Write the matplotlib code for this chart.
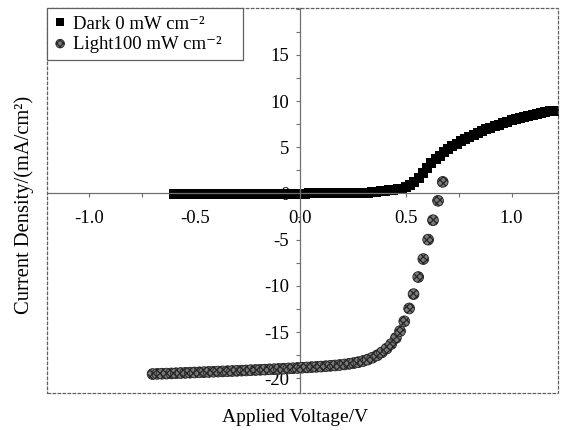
import matplotlib
matplotlib.use("Agg")
import matplotlib.pyplot as plt
from matplotlib.patches import Rectangle
from matplotlib.ticker import MultipleLocator

plt.rcParams['font.family'] = ['Liberation Serif', 'DejaVu Serif']
plt.rcParams['hatch.linewidth'] = 0.9

# ---- data ----
dark_v = [-0.60, -0.58, -0.56, -0.54, -0.52, -0.50, -0.48, -0.46, -0.44, -0.42,
          -0.40, -0.38, -0.36, -0.34, -0.32, -0.30, -0.28, -0.26, -0.24, -0.22,
          -0.20, -0.18, -0.16, -0.14, -0.12, -0.10, -0.08, -0.06, -0.04, -0.02,
          0.00, 0.02, 0.04, 0.06, 0.08, 0.10, 0.12, 0.14, 0.16, 0.18,
          0.20, 0.22, 0.24, 0.26, 0.28, 0.30, 0.32, 0.34, 0.36, 0.38,
          0.40, 0.42, 0.44, 0.46, 0.48, 0.50, 0.52, 0.54, 0.56, 0.58,
          0.60, 0.62, 0.64, 0.66, 0.68, 0.70, 0.72, 0.74, 0.76, 0.78,
          0.80, 0.82, 0.84, 0.86, 0.88, 0.90, 0.92, 0.94, 0.96, 0.98,
          1.00, 1.02, 1.04, 1.06, 1.08, 1.10, 1.12, 1.14, 1.16, 1.18, 1.20]
dark_j = [-0.03, -0.03, -0.03, -0.03, -0.03, -0.03, -0.03, -0.03, -0.03, -0.03,
          -0.03, -0.03, -0.03, -0.03, -0.03, -0.03, -0.03, -0.03, -0.03, -0.03,
          -0.02, -0.02, -0.02, -0.02, -0.02, -0.02, -0.02, -0.02, -0.01, -0.01,
          -0.01, -0.01, 0.00, 0.00, 0.00, 0.01, 0.01, 0.01, 0.02, 0.02,
          0.03, 0.03, 0.04, 0.05, 0.06, 0.08, 0.10, 0.13, 0.17, 0.21,
          0.26, 0.32, 0.38, 0.45, 0.52, 0.65, 0.90, 1.25, 1.70, 2.25,
          2.75, 3.25, 3.70, 4.10, 4.45, 4.80, 5.10, 5.40, 5.65, 5.90,
          6.15, 6.35, 6.55, 6.75, 6.95, 7.10, 7.27, 7.42, 7.60, 7.75,
          7.90, 8.03, 8.15, 8.27, 8.38, 8.50, 8.60, 8.70, 8.80, 8.88, 8.95]

light_v = [-0.700, -0.678, -0.656, -0.634, -0.611, -0.589, -0.567, -0.545, -0.523, -0.501,
           -0.478, -0.456, -0.434, -0.412, -0.390, -0.368, -0.345, -0.323, -0.301, -0.279,
           -0.257, -0.235, -0.212, -0.190, -0.168, -0.146, -0.124, -0.102, -0.080, -0.057,
           -0.035, -0.013, 0.009, 0.031, 0.053, 0.076, 0.098, 0.120, 0.142, 0.164,
           0.186, 0.209, 0.231, 0.253, 0.275, 0.297, 0.319, 0.341, 0.364, 0.386,
           0.408, 0.430, 0.452, 0.472, 0.492, 0.515, 0.536, 0.558, 0.582, 0.605,
           0.628, 0.652, 0.674]
light_j = [-19.55, -19.53, -19.51, -19.50, -19.48, -19.46, -19.44, -19.42, -19.40, -19.38,
           -19.36, -19.34, -19.32, -19.30, -19.28, -19.26, -19.24, -19.22, -19.20, -19.18,
           -19.16, -19.13, -19.11, -19.09, -19.07, -19.04, -19.02, -18.99, -18.97, -18.94,
           -18.92, -18.89, -18.86, -18.83, -18.80, -18.77, -18.74, -18.70, -18.66, -18.62,
           -18.57, -18.51, -18.44, -18.36, -18.26, -18.14, -17.98, -17.78, -17.52, -17.20,
           -16.80, -16.30, -15.65, -14.90, -13.84, -12.45, -10.90, -9.05, -7.10, -5.00,
           -2.90, -0.80, 1.25]

x_ticks = [-1.0, -0.5, 0.0, 0.5, 1.0]
x_ticklabels = ['-1.0', '-0.5', '0.0', '0.5', '1.0']
y_ticks = [-20, -15, -10, -5, 0, 5, 10, 15]
y_ticklabels = ['-20', '-15', '-10', '-5', '0', '5', '10', '15']

# ---- figure ----
fig = plt.figure(figsize=(5.63, 4.30), dpi=100)
ax = fig.add_axes([47/563, 1 - 393/430, (558 - 47)/563, (393 - 8)/430])

ax.plot(dark_v, dark_j, linestyle='none', marker='s', markersize=6.8,
        color='black', markeredgewidth=0, label='Dark 0 mW cm⁻²')
ax.scatter(light_v, light_j, marker='o', s=60, facecolor='#7a7a7a',
           edgecolor='#262626', hatch='xxxxx', linewidths=0.6,
           label='Light100 mW cm⁻²', zorder=3)

ax.set_xlim(-1.2, 1.22)
ax.set_ylim(-21.6, 20.07)

for s in ['top', 'right']:
    ax.spines[s].set_visible(False)
ax.spines['left'].set_position(('data', 0))
ax.spines['bottom'].set_position(('data', 0))
for s in ['left', 'bottom']:
    ax.spines[s].set_color('#707070')
    ax.spines[s].set_linewidth(0.9)

frame = Rectangle((0, 0), 1, 1, transform=ax.transAxes, fill=False,
                  edgecolor='#606060', linewidth=0.9, linestyle=(0, (3, 1)),
                  clip_on=False, zorder=5)
ax.add_patch(frame)

ax.set_xticks(x_ticks)
ax.set_xticklabels(x_ticklabels)
ax.set_yticks(y_ticks)
ax.set_yticklabels(y_ticklabels)
ax.xaxis.set_minor_locator(MultipleLocator(0.25))
ax.yaxis.set_minor_locator(MultipleLocator(2.5))
ax.tick_params(axis='both', which='both', direction='out', length=3,
               width=0.8, color='#707070', labelsize=13.5)
ax.tick_params(axis='x', which='major', pad=9)
ax.tick_params(axis='y', which='major', pad=5)

fig.text(295/563, 1 - 417/430, 'Applied Voltage/V', ha='center', va='center', fontsize=14)
fig.text(24/563, 1 - 205/430, 'Current Density/(mA/cm²)', rotation=90,
         ha='center', va='center', fontsize=14.8)

leg = ax.legend(loc='upper left', bbox_to_anchor=(0, 0, (243 - 47)/511, 1),
                mode='expand', borderaxespad=0,
                fancybox=False, edgecolor='#606060', framealpha=1,
                fontsize=13.5, handlelength=0.6, handletextpad=0.4,
                borderpad=0.4, labelspacing=0.15, markerscale=0.8)
leg.get_frame().set_linewidth(0.9)

fig.savefig('out.png', dpi=100)
